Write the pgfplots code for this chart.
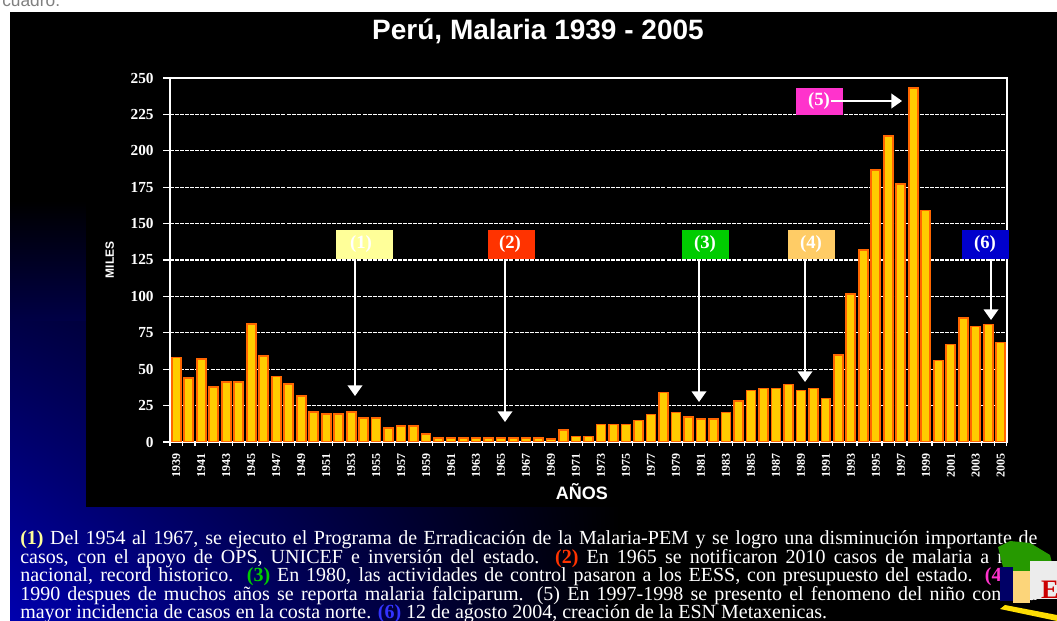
\documentclass[border=0pt]{standalone}
\usepackage{fontspec}
\setmainfont{Liberation Serif}
\newfontfamily\arial{Liberation Sans}
\usepackage{pgfplots}
\pgfplotsset{compat=1.18}
\usetikzlibrary{arrows.meta,shadings}
\definecolor{barfill}{HTML}{FFCC00}
\definecolor{baredge}{HTML}{FF6600}
\definecolor{cA}{HTML}{FFFF99}
\definecolor{cB}{HTML}{FF3300}
\definecolor{cC}{HTML}{00CC00}
\definecolor{cD}{HTML}{FFCC66}
\definecolor{cE}{HTML}{FF33CC}
\definecolor{cF}{HTML}{0000CC}
\definecolor{cG}{HTML}{3333FF}
\definecolor{navy}{RGB}{0,0,175}
\definecolor{navymid}{RGB}{0,0,70}
\begin{document}
\begin{tikzpicture}[x=0.75pt,y=0.75pt]
\useasboundingbox (0,0) rectangle (1057,621);
\clip (0,0) rectangle (1057,621);
\fill[white] (0,0) rectangle (1057,621);
\node[anchor=base west, text=gray, font=\arial\fontsize{13}{13}\selectfont, inner sep=0] at (2,614) {cuadro.};
\fill[black] (10,0) rectangle (1057,609);
\shade[upper left=navymid, upper right=black, lower left=navy, lower right=black] (10,0) rectangle (620,300);
\shade[top color=black, bottom color=navymid] (10,300) rectangle (620,420);
\fill[black] (620,0) rectangle (1057,420);
\fill[black] (86,114) rectangle (1057,609);
\node[text=white, font=\arial\bfseries\fontsize{21}{21}\selectfont] at (538,590) {Perú, Malaria 1939 - 2005};
\begin{axis}[
  at={(127.5pt,134.25pt)}, anchor=south west,
  scale only axis, width=627.75pt, height=273pt,
  xmin=1938.5, xmax=2005.5, ymin=0, ymax=250,
  ytick={0,25,...,250},
  xtick={1939,1941,...,2005},
  minor xtick={1938.5,1939.5,...,2005.5},
  major x tick style={draw=none},
  minor x tick style={white, line width=0.8pt},
  minor tick length=3pt,
  y tick style={white, line width=1pt},
  major tick length=5.25pt,
  tick align=outside, tick pos=left,
  axis line style={white, line width=1.4pt},
  ymajorgrids,
  grid style={white, line width=1pt, dash pattern=on 3pt off 0.8pt},
  /pgf/number format/1000 sep={},
  /pgf/number format/assume math mode=true,
  y tick label style={font=\bfseries\fontsize{11.5}{12}\selectfont, text=white, xshift=-3.5pt},
  x tick label style={rotate=90, anchor=east, font=\bfseries\fontsize{9}{9}\selectfont, text=white},
  ylabel={MILES},
  ylabel style={at={(axis description cs:-0.072,0.5)}, anchor=center, font=\arial\bfseries\fontsize{9}{9}\selectfont, text=white},
  xlabel={AÑOS},
  xlabel style={at={(axis description cs:0.492,-0.137)}, anchor=center, font=\arial\bfseries\fontsize{13.5}{13.5}\selectfont, text=white},
]
\addplot[ybar, bar width=0.72, fill=barfill, draw=baredge, line width=1.3pt] coordinates {
(1939,58) (1940,44) (1941,57) (1942,38) (1943,41) (1944,41) (1945,81) (1946,59)
(1947,45) (1948,40) (1949,31.5) (1950,20.5) (1951,19) (1952,19) (1953,20.5) (1954,16.5)
(1955,16.5) (1956,9.5) (1957,11) (1958,11) (1959,5.5) (1960,2.5) (1961,2.5) (1962,2.5)
(1963,2.5) (1964,2.5) (1965,2.5) (1966,2.5) (1967,2.5) (1968,2.5) (1969,2.3) (1970,8.2)
(1971,3.7) (1972,3.7) (1973,12) (1974,12) (1975,12) (1976,14.7) (1977,18.8) (1978,34)
(1979,20.2) (1980,17.4) (1981,16) (1982,16) (1983,20.2) (1984,28.4) (1985,35.3) (1986,36.7)
(1987,36.7) (1988,39.4) (1989,35.3) (1990,36.7) (1991,29.8) (1992,60) (1993,101.4) (1994,131.7)
(1995,186.7) (1996,210) (1997,177) (1998,243) (1999,159) (2000,56) (2001,67) (2002,85)
(2003,79.4) (2004,80.7) (2005,68.3)
};
\end{axis}
% annotation boxes
\tikzset{lbl/.style={text=white, font=\bfseries\fontsize{14}{14}\selectfont, inner sep=0},
  arr/.style={white, line width=1.3pt, -{Triangle[width=11pt,length=8pt]}}}
\fill[cA] (336,362) rectangle (393,391); \node[lbl] at (361,376.5) {(1)};
\draw[arr] (355,362) -- (355,225);
\fill[cB] (488,362) rectangle (535,391); \node[lbl] at (510,376.5) {(2)};
\draw[arr] (505,362) -- (505,199);
\fill[cC] (682,362) rectangle (729,391); \node[lbl] at (705,376.5) {(3)};
\draw[arr] (699,362) -- (699,219);
\fill[cD] (788,362) rectangle (835,391); \node[lbl] at (811,376.5) {(4)};
\draw[arr] (805,362) -- (805,239);
\fill[cE] (796,506) rectangle (843,533); \node[lbl] at (819,519.5) {(5)};
\draw[arr] (831,520) -- (902,520);
\fill[cF] (962,362) rectangle (1009,391); \node[lbl] at (985,376.5) {(6)};
\draw[arr] (991,362) -- (991,301);
% bottom text
\tikzset{txt/.style={anchor=base west, inner sep=0, text=white, font=\fontsize{15}{15}\selectfont}}
\node[txt] at (20,76) {\hbox to 762.75pt{\textbf{\color{cA}(1)} Del 1954 al 1967, se ejecuto el Programa de Erradicación de la Malaria-PEM y se logro una disminución importante de}};
\node[txt] at (20,57.5) {\hbox to 762.75pt{casos, con el apoyo de OPS, UNICEF e inversión del estado. \textbf{\color{cB}(2)} En 1965 se notificaron 2010 casos de malaria a nivel}};
\node[txt] at (20,39) {\hbox to 762.75pt{nacional, record historico.\ \ \textbf{\color{cC}(3)} En 1980, las actividades de control pasaron a los EESS, con presupuesto del estado. \textbf{\color{cE}(4)} En}};
\node[txt] at (20,20.5) {\hbox to 762.75pt{1990 despues de muchos años se reporta malaria falciparum. (5) En 1997-1998 se presento el fenomeno del niño con una}};
\node[txt] at (20,2) {mayor incidencia de casos en la costa norte. \textbf{\color{cG}(6)} 12 de agosto 2004, creación de la ESN Metaxenicas.};
% logo (rough)
\fill[green!50!black!80!lime] (998,74) -- (1010,80) -- (1030,78) -- (1050,66) -- (1054,50) -- (1040,38) -- (1020,36) -- (1005,46) -- cycle;
\fill[white!85!gray] (1030,60) rectangle (1057,22);
\fill[blue!40!black] (1000,54) rectangle (1013,20);
\fill[yellow!40!orange!50!white] (1013,50) rectangle (1030,18);
\node[text=red!80!black, font=\bfseries\fontsize{20}{20}\selectfont, inner sep=0, anchor=base] at (1050,22) {E};
\fill[yellow!80!orange] (1000,12) -- (1057,0) -- (1057,6) -- (1005,16) -- cycle;
\end{tikzpicture}
\end{document}
